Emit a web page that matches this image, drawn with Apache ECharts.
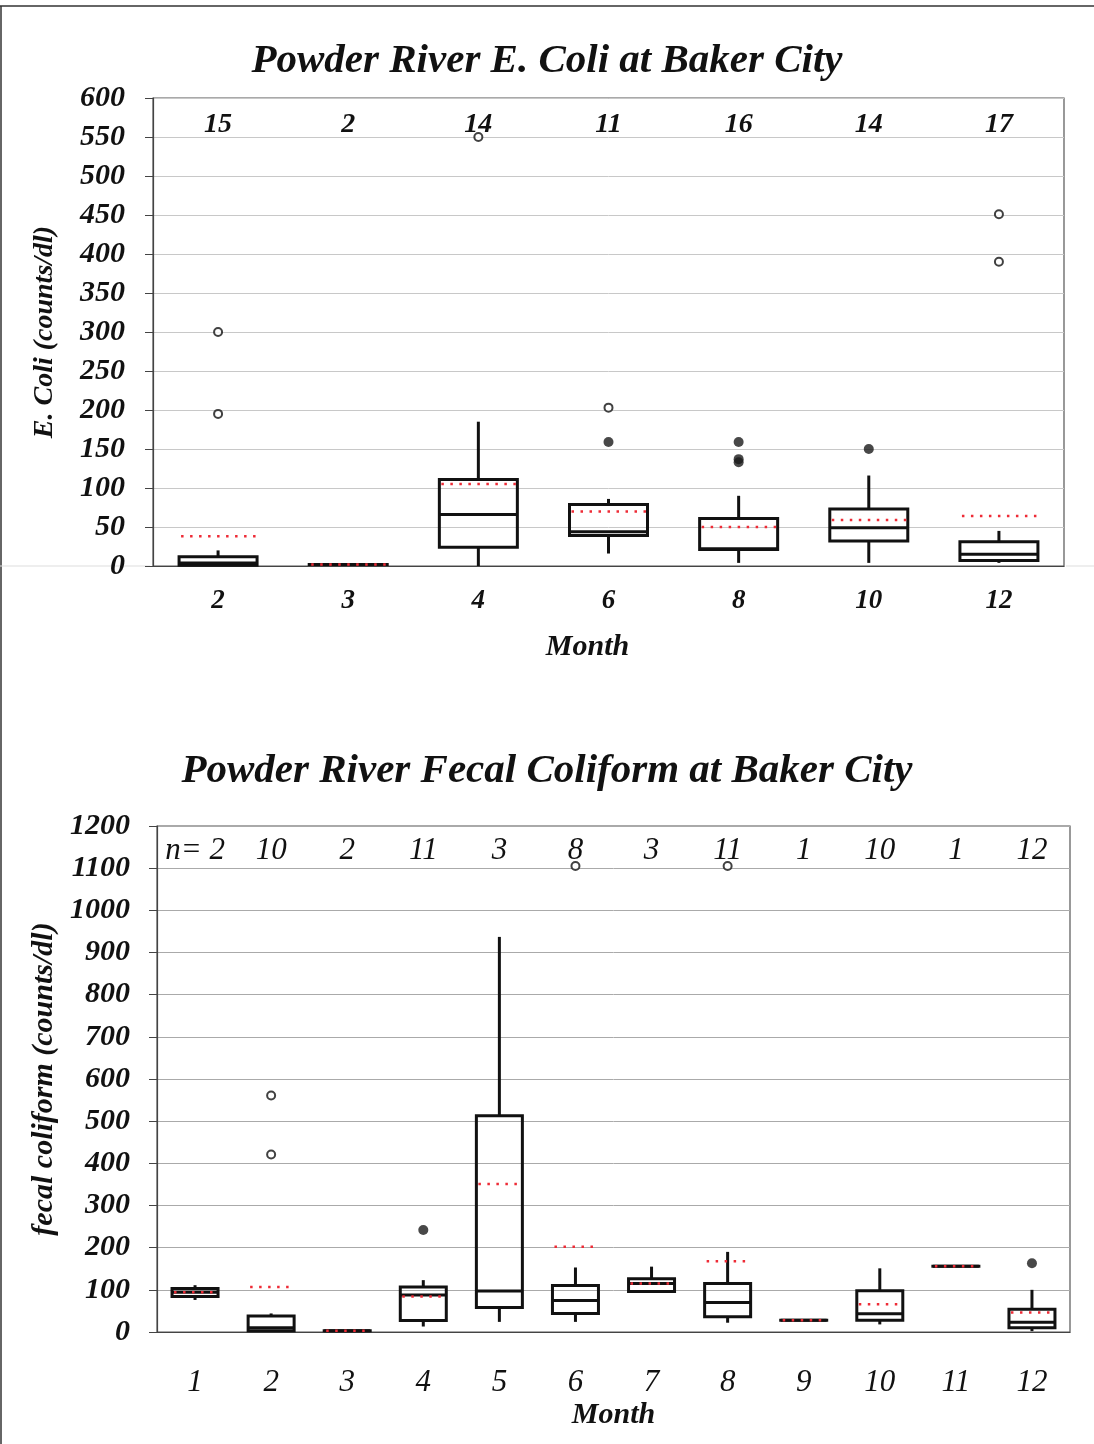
<!DOCTYPE html>
<html><head><meta charset="utf-8">
<script src="https://cdn.jsdelivr.net/npm/echarts@6/dist/echarts.min.js"></script>
<style>html,body{margin:0;padding:0;background:#fff}#c{width:1094px;height:1444px}</style>
</head><body><div id="c"></div>
<script>
// ---------- Top chart: E. coli ----------
const ecoliMonths = ['2','3','4','6','8','10','12'];
const ecoliN      = ['15','2','14','11','16','14','17'];
const ecoliLow    = [0, 2, 0, 16, 4, 4, 4];
const ecoliQ1     = [1, 2, 24, 39, 21, 32, 7];
const ecoliMed    = [4, 2, 66, 44, 22, 49, 15];
const ecoliQ3     = [12, 2, 111, 79, 61, 73, 31];
const ecoliHigh   = [20, 2, 185, 86, 90, 116, 45];
const ecoliMean   = [38, 2, 105, 70, 50, 59, 64];
const ecoliOutOpen   = [[0,300],[0,195],[2,550],[3,203],[6,451],[6,390]];
const ecoliOutFilled = [[3,159],[4,159],[4,137],[4,133],[5,150]];

// ---------- Bottom chart: Fecal coliform ----------
const fecalMonths = ['1','2','3','4','5','6','7','8','9','10','11','12'];
const fecalN      = ['n= 2','10','2','11','3','8','3','11','1','10','1','12'];
const fecalLow    = [76, 0, 3, 13, 24, 24, 96, 22, 28, 18, 156, 2];
const fecalQ1     = [84, 3, 3, 27, 58, 44, 96, 36, 28, 28, 156, 10];
const fecalMed    = [94, 10, 3, 88, 97, 75, 115, 70, 28, 43, 156, 23];
const fecalQ3     = [103, 38, 3, 107, 513, 110, 126, 115, 28, 98, 156, 54];
const fecalHigh   = [111, 44, 3, 123, 937, 153, 155, 190, 28, 151, 156, 100];
const fecalMean   = [94, 107, 3, 84, 351, 202, 115, 168, 28, 66, 156, 46];
const fecalOutOpen   = [[1,561],[1,421],[5,1105],[7,1105]];
const fecalOutFilled = [[3,242],[11,163]];

const FONT = 'Liberation Serif';

function boxData(low,q1,med,q3,high,mean){
  return low.map((v,i)=>[i, low[i], q1[i], med[i], q3[i], high[i], mean[i]]);
}

function makeRender(boxW){
  return function(params, api){
    const x = api.value(0);
    const pLow = api.coord([x, api.value(1)]);
    const pQ1 = api.coord([x, api.value(2)]);
    const pMed = api.coord([x, api.value(3)]);
    const pQ3 = api.coord([x, api.value(4)]);
    const pHigh = api.coord([x, api.value(5)]);
    const pMean = api.coord([x, api.value(6)]);
    const cx = pMed[0];
    const half = boxW/2;
    const black = {stroke:'#111', lineWidth:3, fill:null};
    return {type:'group', children:[
      {type:'line', shape:{x1:cx,y1:pQ3[1],x2:cx,y2:pHigh[1]}, style:black},
      {type:'line', shape:{x1:cx,y1:pQ1[1],x2:cx,y2:pLow[1]}, style:black},
      {type:'rect', shape:{x:cx-half,y:pQ3[1],width:boxW,height:Math.max(pQ1[1]-pQ3[1],0.01)}, style:{stroke:'#111',lineWidth:3,fill:'rgba(0,0,0,0)'}},
      {type:'line', shape:{x1:cx-half,y1:pMed[1],x2:cx+half,y2:pMed[1]}, style:black},
      {type:'line', shape:{x1:cx-half+2,y1:pMean[1],x2:cx+half,y2:pMean[1]}, style:{stroke:'#ee2b36',lineWidth:2.5,lineDash:[2.5,6.5],fill:null}}
    ]};
  };
}

const bi = (size)=>({fontFamily:FONT,fontWeight:'bold',fontStyle:'italic',fontSize:size,color:'#111'});
const plainNum = v => String(v);

const chart = echarts.init(document.getElementById('c'), null, {renderer:'canvas'});
chart.setOption({
  backgroundColor:'#fff',
  animation:false,
  title:[
    {text:'Powder River E. Coli at Baker City', left:'center', top:36,
     textStyle:bi(41)},
    {text:'Powder River Fecal Coliform at Baker City', left:'center', top:746,
     textStyle:bi(41)}
  ],
  graphic:[
    {type:'line', shape:{x1:0,y1:6,x2:1094,y2:6}, style:{stroke:'#333',lineWidth:1.5}},
    {type:'line', shape:{x1:1,y1:6,x2:1,y2:1444}, style:{stroke:'#333',lineWidth:1.5}},
    {type:'line', shape:{x1:0,y1:566,x2:150,y2:566}, style:{stroke:'#ddd',lineWidth:1}},
    {type:'line', shape:{x1:1066,y1:566,x2:1094,y2:566}, style:{stroke:'#ddd',lineWidth:1}}
  ],
  grid:[
    {left:153, top:98, right:30, height:468, show:true, borderColor:'#555', borderWidth:1.2, backgroundColor:'#fff'},
    {left:157, top:826, right:24, height:506, show:true, borderColor:'#555', borderWidth:1.2, backgroundColor:'#fff'}
  ],
  xAxis:[
    {type:'category', gridIndex:0, data:ecoliMonths, boundaryGap:true,
     axisLine:{lineStyle:{color:'#444',width:1.2}}, axisTick:{show:false},
     axisLabel:Object.assign({margin:22, interval:0}, bi(27)),
     name:'Month', nameLocation:'middle', nameGap:66,
     nameTextStyle:Object.assign({padding:[0,42,0,0]}, bi(30))},
    {type:'category', gridIndex:0, data:ecoliN, position:'top',
     axisLine:{show:false}, axisTick:{show:false}, splitLine:{show:false},
     axisLabel:Object.assign({inside:true, margin:13, interval:0}, bi(28))},
    {type:'category', gridIndex:1, data:fecalMonths, boundaryGap:true,
     axisLine:{lineStyle:{color:'#444',width:1.2}}, axisTick:{show:false},
     axisLabel:{margin:35, interval:0, fontFamily:FONT, fontStyle:'italic', fontSize:31, color:'#111'},
     name:'Month', nameLocation:'middle', nameGap:68,
     nameTextStyle:bi(30)},
    {type:'category', gridIndex:1, data:fecalN, position:'top',
     axisLine:{show:false}, axisTick:{show:false}, splitLine:{show:false},
     axisLabel:{inside:true, margin:9, interval:0, fontFamily:FONT, fontStyle:'italic', fontSize:31, color:'#111'}}
  ],
  yAxis:[
    {type:'value', gridIndex:0, min:0, max:600, interval:50,
     axisLine:{show:true, lineStyle:{color:'#444',width:1.2}},
     axisTick:{show:true, length:8, lineStyle:{color:'#444'}},
     splitLine:{lineStyle:{color:'#c8c8c8',width:1}},
     axisLabel:Object.assign({margin:28, formatter:plainNum}, bi(30)),
     name:'E. Coli (counts/dl)', nameLocation:'middle', nameGap:94,
     nameTextStyle:bi(28)},
    {type:'value', gridIndex:1, min:0, max:1200, interval:100,
     axisLine:{show:true, lineStyle:{color:'#444',width:1.2}},
     axisTick:{show:true, length:8, lineStyle:{color:'#444'}},
     splitLine:{lineStyle:{color:'#aaa',width:1}},
     axisLabel:Object.assign({margin:27, formatter:plainNum}, bi(30)),
     name:'fecal coliform (counts/dl)', nameLocation:'middle', nameGap:92,
     nameTextStyle:bi(30)}
  ],
  series:[
    {type:'custom', xAxisIndex:0, yAxisIndex:0, renderItem:makeRender(78), clip:false,
     encode:{x:0, y:[1,2,3,4,5]}, data:boxData(ecoliLow,ecoliQ1,ecoliMed,ecoliQ3,ecoliHigh,ecoliMean), z:3},
    {type:'scatter', xAxisIndex:0, yAxisIndex:0, data:ecoliOutOpen, symbol:'emptyCircle', symbolSize:8,
     itemStyle:{color:'#111', borderColor:'#111', borderWidth:1.6}, z:4},
    {type:'scatter', xAxisIndex:0, yAxisIndex:0, data:ecoliOutFilled, symbol:'circle', symbolSize:10,
     itemStyle:{color:'#1a1a1a'}, z:4},
    {type:'custom', xAxisIndex:2, yAxisIndex:1, renderItem:makeRender(46), clip:false,
     encode:{x:0, y:[1,2,3,4,5]}, data:boxData(fecalLow,fecalQ1,fecalMed,fecalQ3,fecalHigh,fecalMean), z:3},
    {type:'scatter', xAxisIndex:2, yAxisIndex:1, data:fecalOutOpen, symbol:'emptyCircle', symbolSize:8,
     itemStyle:{color:'#111', borderColor:'#111', borderWidth:1.6}, z:4},
    {type:'scatter', xAxisIndex:2, yAxisIndex:1, data:fecalOutFilled, symbol:'circle', symbolSize:10,
     itemStyle:{color:'#1a1a1a'}, z:4}
  ]
});
</script></body></html>
